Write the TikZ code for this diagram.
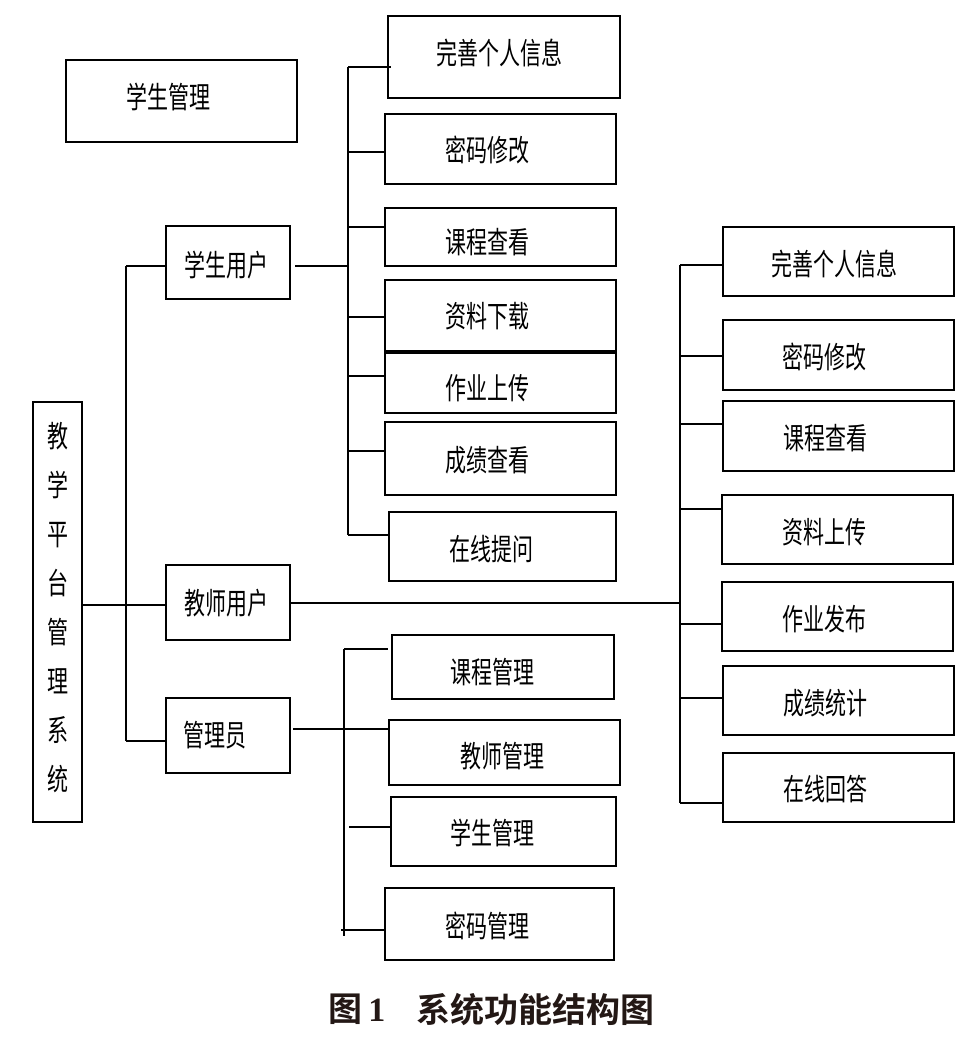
\documentclass[tikz,border=0pt]{standalone}
\usepackage{fontspec}
\usepackage{graphicx}
\newfontfamily\cjk[BoldFont={Noto Sans CJK SC Bold}]{Noto Sans CJK SC}
\newfontfamily\capnum{Liberation Serif}
\newcommand\cjt[1]{\scalebox{0.84}[1.2]{#1}}
\definecolor{capc}{HTML}{231815}
\tikzset{
  bx/.style={draw, line width=1.8pt, inner sep=0pt, outer sep=0pt},
  tx/.style={font=\cjk\fontsize{25}{30}\selectfont, inner sep=0pt},
  ln/.style={line width=1.8pt},
  captxt/.style={font=\cjk\bfseries\fontsize{34}{34}\selectfont, text=capc, inner sep=0pt},
}
\newcommand\bx[5]{%
  \node[bx, minimum width={#4-#2}, minimum height={#5-#3}] (#1) at ({(#2+#4)/2},{(#3+#5)/2}) {};}
\newcommand\btxt[4]{\node[tx] (#1) at (#2,#3) {\cjt{#4}};}
\begin{document}
\begin{tikzpicture}[x=1pt,y=-1pt]
\useasboundingbox (0,0) rectangle (977,1040);
% ---------- boxes ----------
\bx{tg}{66}{60}{297}{142}
\btxt{tgt}{168}{97}{学生管理}
\bx{sys}{33}{402}{82}{822}
\node[tx, align=center, font=\cjk\fontsize{25}{49}\selectfont] (syst) at (58,608)
  {\cjt{教}\\\cjt{学}\\\cjt{平}\\\cjt{台}\\\cjt{管}\\\cjt{理}\\\cjt{系}\\\cjt{统}};
\bx{su}{166}{226}{290}{299}
\btxt{sut}{226}{265}{学生用户}
\bx{tu}{166}{565}{290}{640}
\btxt{tut}{226}{603}{教师用户}
\bx{ad}{166}{698}{290}{773}
\btxt{adt}{215}{735}{管理员}
% student children
\bx{s1}{388}{16}{620}{98}
\btxt{s1t}{499}{53}{完善个人信息}
\bx{s2}{385}{114}{616}{184}
\btxt{s2t}{487}{150}{密码修改}
\bx{s3}{385}{208}{616}{266}
\btxt{s3t}{487}{242}{课程查看}
\bx{s4}{385}{280}{616}{351}
\btxt{s4t}{487}{316}{资料下载}
\bx{s5}{385}{353}{616}{413}
\btxt{s5t}{487}{388}{作业上传}
\bx{s6}{385}{422}{616}{495}
\btxt{s6t}{487}{460}{成绩查看}
\bx{s7}{389}{512}{616}{581}
\btxt{s7t}{491}{549}{在线提问}
% teacher children
\bx{t1}{723}{227}{954}{296}
\btxt{t1t}{834}{264}{完善个人信息}
\bx{t2}{723}{320}{954}{390}
\btxt{t2t}{824}{357}{密码修改}
\bx{t3}{723}{401}{954}{471}
\btxt{t3t}{825}{438}{课程查看}
\bx{t4}{722}{495}{953}{564}
\btxt{t4t}{824}{532}{资料上传}
\bx{t5}{722}{582}{953}{651}
\btxt{t5t}{824}{619}{作业发布}
\bx{t6}{723}{666}{954}{735}
\btxt{t6t}{825}{703}{成绩统计}
\bx{t7}{723}{753}{954}{822}
\btxt{t7t}{825}{789}{在线回答}
% admin children
\bx{a1}{392}{635}{614}{699}
\btxt{a1t}{492}{672}{课程管理}
\bx{a2}{389}{720}{620}{785}
\btxt{a2t}{502}{756}{教师管理}
\bx{a3}{391}{797}{616}{866}
\btxt{a3t}{492}{833}{学生管理}
\bx{a4}{385}{888}{614}{960}
\btxt{a4t}{487}{926}{密码管理}
% ---------- connectors ----------
% main trunk
\coordinate (mT) at (126,266);
\coordinate (mB) at (126,741);
\coordinate (mM) at (82,605);
\draw[ln] (mT) -- (mB);
\draw[ln] (mT) -- (mT -| su.west);
\draw[ln] (mB) -- (mB -| ad.west);
\draw[ln] (mM -| sys.east) -- (mM -| tu.west);
% student trunk
\coordinate (sT) at (348,67);
\coordinate (sB) at (348,535);
\coordinate (sJ) at (348,266);
\draw[ln] (sT) -- (sB);
\draw[ln] ([xshift=5pt]su.east |- sJ) -- (sJ);
\draw[ln] (sT) -- ([xshift=3pt]sT -| s1.west);
\foreach \yy/\bb in {152/s2, 227/s3, 317/s4, 376/s5, 451/s6, 535/s7}{
  \coordinate (sb) at (348,\yy);
  \draw[ln] (sb) -- (sb -| \bb.west);
}
% teacher trunk
\coordinate (tT) at (680,265);
\coordinate (tB) at (680,803);
\coordinate (tJ) at (680,603);
\draw[ln] (tT) -- (tB);
\draw[ln] (tu.east |- tJ) -- (tJ);
\foreach \yy/\bb in {265/t1, 356/t2, 424/t3, 509/t4, 624/t5, 698/t6, 803/t7}{
  \coordinate (tb) at (680,\yy);
  \draw[ln] (tb) -- (tb -| \bb.west);
}
% admin trunk
\coordinate (aT) at (344,649);
\coordinate (aB) at (344,936);
\coordinate (aJ) at (344,729);
\draw[ln] (aT) -- (aB);
\draw[ln] (aT) -- ([xshift=-4pt]aT -| a1.west);
\draw[ln] ([xshift=3pt]ad.east |- aJ) -- (aJ -| a2.west);
\coordinate (a3c) at (349,827);
\draw[ln] (a3c) -- (a3c -| a3.west);
\coordinate (a4c) at (341,930);
\draw[ln] (a4c) -- ([xshift=-1pt]a4c -| a4.west);
% ---------- caption ----------
\node[captxt] (cap1) at (357,1009) {图\,{\capnum\bfseries 1}};
\node[captxt] (cap2) at (535,1009) {系统功能结构图};
\end{tikzpicture}
\end{document}
